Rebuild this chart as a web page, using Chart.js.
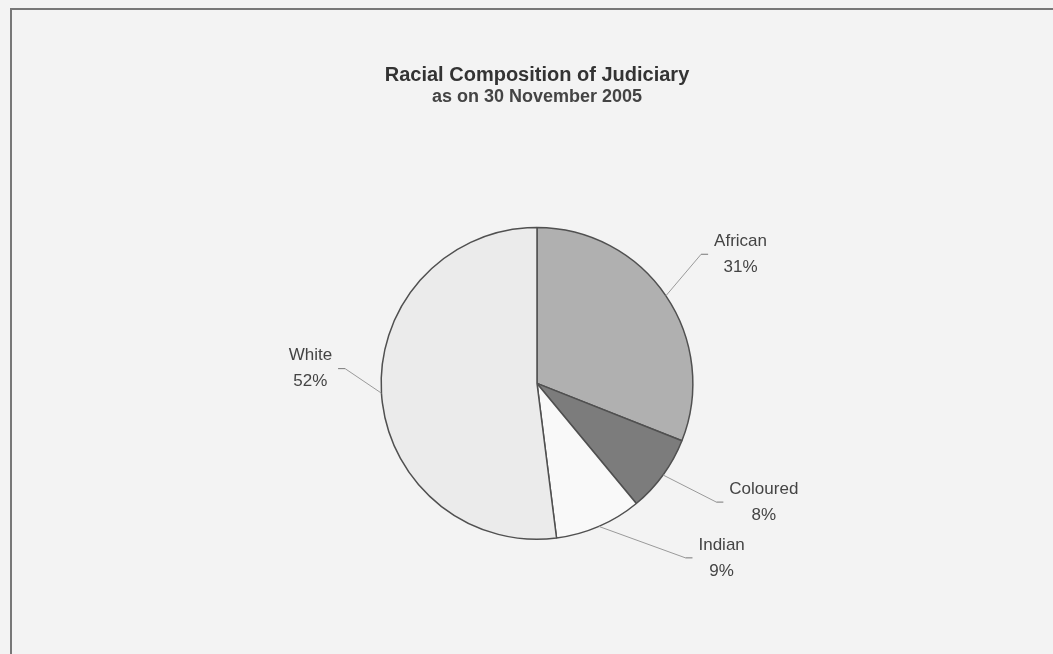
<!DOCTYPE html>
<html lang="en">
<head>
    <meta charset="UTF-8">
    <title>Racial Composition of Judiciary</title>
    <script src="https://cdn.jsdelivr.net/npm/chart.js"></script>
    <style>
        html, body { margin: 0; padding: 0; background: #f3f3f3; }
        canvas { display: block; }
    </style>
</head>
<body>
    <canvas id="myChart" width="1053" height="654"></canvas>
    <script>
        // Data (clockwise from 12 o'clock)
        const groups = ['African', 'Coloured', 'Indian', 'White'];
        const shares = [31, 8, 9, 52];
        const sliceColors = ['#b0b0b0', '#7c7c7c', '#f9f9f9', '#ebebeb'];

        // Leader line tweaks per slice: angle shift (deg) and length (x radius)
        const leaderShift = [-4, -2.5, -17, 8];
        const leaderReach = [1.34, 1.38, 1.47, 1.235];

        // frame around the whole chart (only top and left edges are visible)
        const framePlugin = {
            id: 'frame',
            beforeDraw(chart) {
                const ctx = chart.ctx;
                ctx.save();
                ctx.fillStyle = '#f3f3f3';
                ctx.fillRect(0, 0, chart.width, chart.height);
                ctx.strokeStyle = '#777';
                ctx.lineWidth = 2;
                ctx.beginPath();
                ctx.moveTo(11, chart.height);
                ctx.lineTo(11, 9);
                ctx.lineTo(chart.width, 9);
                ctx.stroke();
                ctx.restore();
            }
        };

        // Excel style outside labels with leader lines
        const labelPlugin = {
            id: 'outLabels',
            afterDatasetsDraw(chart) {
                const ctx = chart.ctx;
                const meta = chart.getDatasetMeta(0);
                ctx.save();
                ctx.font = '17px "Liberation Sans", Arial, sans-serif';
                ctx.textBaseline = 'middle';
                meta.data.forEach((arc, i) => {
                    const mid = (arc.startAngle + arc.endAngle) / 2;
                    const r = arc.outerRadius;
                    const sx = arc.x + Math.cos(mid) * r;
                    const sy = arc.y + Math.sin(mid) * r;
                    const a2 = mid + leaderShift[i] * Math.PI / 180;
                    const ex = arc.x + Math.cos(a2) * r * leaderReach[i];
                    const ey = arc.y + Math.sin(a2) * r * leaderReach[i];
                    const right = Math.cos(a2) >= 0;
                    const tx = right ? ex + 7 : ex - 7;

                    ctx.strokeStyle = '#9a9a9a';
                    ctx.lineWidth = 1;
                    ctx.beginPath();
                    ctx.moveTo(sx, sy);
                    ctx.lineTo(ex, ey);
                    ctx.stroke();
                    ctx.strokeStyle = '#777';
                    ctx.beginPath();
                    ctx.moveTo(ex, ey);
                    ctx.lineTo(tx, ey);
                    ctx.stroke();

                    const lines = [groups[i], shares[i] + '%'];
                    const w = Math.max(...lines.map(t => ctx.measureText(t).width));
                    const cx = right ? tx + 6 + w / 2 : tx - 6 - w / 2;
                    ctx.fillStyle = '#444';
                    ctx.textAlign = 'center';
                    ctx.fillText(lines[0], cx, ey - 13);
                    ctx.fillText(lines[1], cx, ey + 13);
                });
                ctx.restore();
            }
        };

        const ctx = document.getElementById('myChart').getContext('2d');
        new Chart(ctx, {
            type: 'pie',
            data: {
                labels: groups,
                datasets: [{
                    data: shares,
                    backgroundColor: sliceColors,
                    borderColor: '#505050',
                    borderWidth: 1.5
                }]
            },
            options: {
                responsive: false,
                animation: false,
                layout: {
                    padding: { top: 55, left: 380, right: 359, bottom: 114 }
                },
                plugins: {
                    legend: { display: false },
                    tooltip: { enabled: false },
                    title: {
                        display: true,
                        text: 'Racial Composition of Judiciary',
                        color: '#333',
                        font: { family: '"Liberation Sans", Arial, sans-serif', size: 20, weight: 'bold', lineHeight: 1.2 },
                        padding: { top: 8, bottom: 0 }
                    },
                    subtitle: {
                        display: true,
                        text: 'as on 30 November 2005',
                        color: '#444',
                        font: { family: '"Liberation Sans", Arial, sans-serif', size: 18, weight: 'bold', lineHeight: 1.1 },
                        padding: { top: 0, bottom: 120 }
                    }
                }
            },
            plugins: [framePlugin, labelPlugin]
        });
    </script>
</body>
</html>
